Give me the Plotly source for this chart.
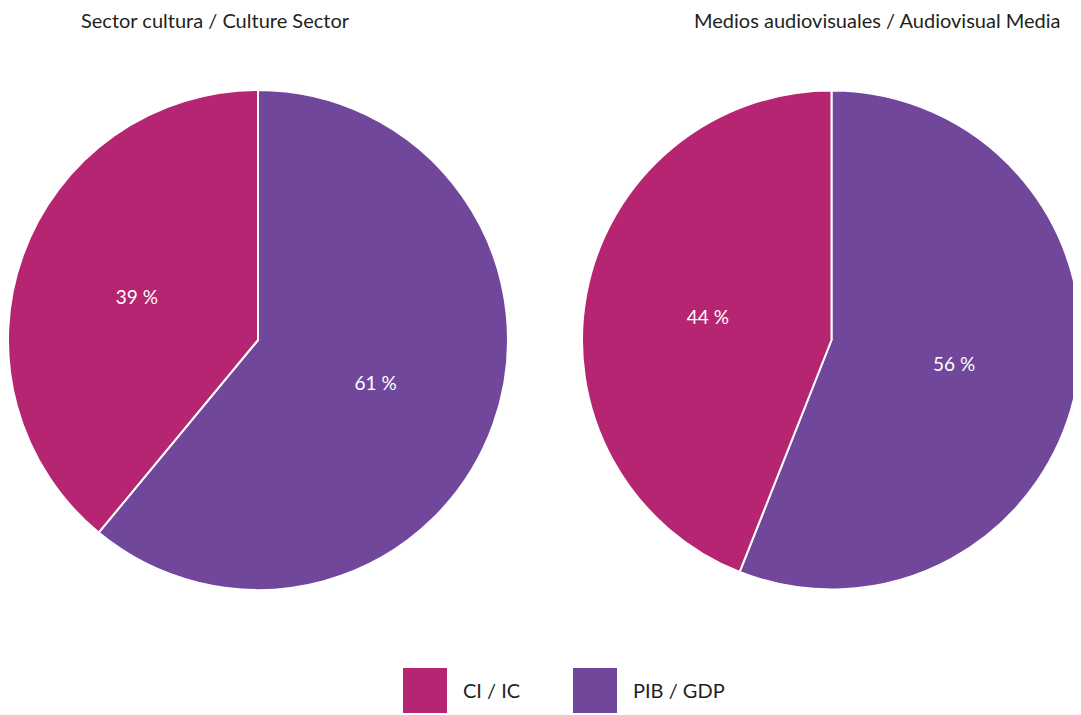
import plotly.graph_objects as go

# data
categories = ["CI / IC", "PIB / GDP"]
colors = ["#B52572", "#71479C"]
culture_values = [39, 61]
audiovisual_values = [44, 56]
titles = ["Sector cultura / Culture Sector", "Medios audiovisuales / Audiovisual Media"]

OFF = 8  # page body margin
W, H = 1081 - OFF, 715 - OFF
FONT = "Lato"


def px_x(v):
    return (v - OFF) / W


def px_y(v):
    return 1 - (v - OFF) / H


fig = go.Figure()

# PIB drawn first, clockwise from 12 o'clock, so CI sits on the left
for vals, (x0, x1) in [(culture_values, (8, 508)), (audiovisual_values, (582, 1081))]:
    fig.add_trace(
        go.Pie(
            labels=categories[::-1],
            values=vals[::-1],
            sort=False,
            direction="clockwise",
            rotation=0,
            marker=dict(colors=colors[::-1], line=dict(color="white", width=2)),
            texttemplate="%{value} %",
            textposition="inside",
            insidetextorientation="horizontal",
            textfont=dict(family=FONT, size=19, color="white"),
            domain=dict(x=[px_x(x0), px_x(x1)], y=[px_y(590), px_y(90)]),
            showlegend=False,
            hoverinfo="label+value",
        )
    )

# titles
fig.add_annotation(
    x=px_x(80), y=px_y(20), xref="paper", yref="paper", text=titles[0],
    showarrow=False, xanchor="left", yanchor="middle", borderpad=0,
    font=dict(family=FONT, size=20, color="#231F20"),
)
fig.add_annotation(
    x=px_x(1061), y=px_y(20), xref="paper", yref="paper", text=titles[1],
    showarrow=False, xanchor="right", yanchor="middle", borderpad=0,
    font=dict(family=FONT, size=20, color="#231F20"),
)

# legend: big swatches
for cat, col, sx in zip(categories, colors, [403, 573]):
    fig.add_shape(
        type="rect", xref="paper", yref="paper",
        x0=px_x(sx), x1=px_x(sx + 44), y0=px_y(713), y1=px_y(668),
        fillcolor=col, line=dict(width=0),
    )
    fig.add_annotation(
        x=px_x(sx + 58), y=px_y(690), xref="paper", yref="paper", text=cat,
        showarrow=False, xanchor="left", yanchor="middle",
        font=dict(family=FONT, size=20, color="#231F20"),
    )

fig.update_layout(
    width=W, height=H,
    margin=dict(l=0, r=0, t=0, b=0),
    paper_bgcolor="white",
    plot_bgcolor="white",
)

fig.write_html("out.html")
